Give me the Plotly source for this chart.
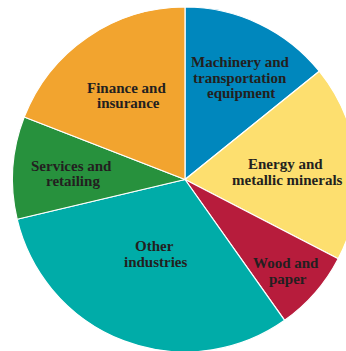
import plotly.graph_objects as go

categories = ["Machinery and transportation equipment", "Energy and metallic minerals",
              "Wood and paper", "Other industries", "Services and retailing",
              "Finance and insurance"]
values = [14.2, 18.4, 7.6, 31.1, 9.6, 19.1]
colors = ["#0087bd", "#fddf6f", "#b71c3c", "#00aca8", "#27913d", "#f2a42f"]

# label lines with (center x px, baseline y px)
label_lines = [
    ("Machinery and", 240, 66.5), ("transportation", 240, 82.5), ("equipment", 241, 97.5),
    ("Energy and", 285, 168.5), ("metallic minerals", 287, 184.5),
    ("Wood and", 285.5, 268), ("paper", 287.5, 283.5),
    ("Other", 154.5, 251), ("industries", 155.5, 267),
    ("Services and", 71, 170.5), ("retailing", 73, 186),
    ("Finance and", 126.5, 92.5), ("insurance", 128.3, 107.5),
]

W, H = 360, 353
cx, cy, r = 185, 179.5, 172.5

fig = go.Figure(go.Pie(
    labels=categories, values=values, sort=False, direction="clockwise", rotation=0,
    marker=dict(colors=colors, line=dict(color="white", width=1.2)),
    textinfo="none", hoverinfo="label+percent", showlegend=False,
    domain=dict(x=[(cx - r) / W, (cx + r) / W], y=[1 - (cy + r) / H, 1 - (cy - r) / H]),
))

for txt, x, yb in label_lines:
    fig.add_annotation(text=txt, x=x / W, y=1 - (yb - 5) / H, xref="paper", yref="paper",
                       xanchor="center", yanchor="middle", showarrow=False,
                       font=dict(family="Liberation Serif", size=15, color="#231f20"),
                       borderpad=0)
fig.update_annotations(font_weight="bold")

fig.update_layout(width=W, height=H, margin=dict(l=0, r=0, t=0, b=0),
                  paper_bgcolor="white", plot_bgcolor="white")

fig.write_html("out.html", post_script=(
    "document.documentElement.style.overflow='hidden';"
    "document.body.style.overflow='hidden';document.body.style.margin='0';"))
